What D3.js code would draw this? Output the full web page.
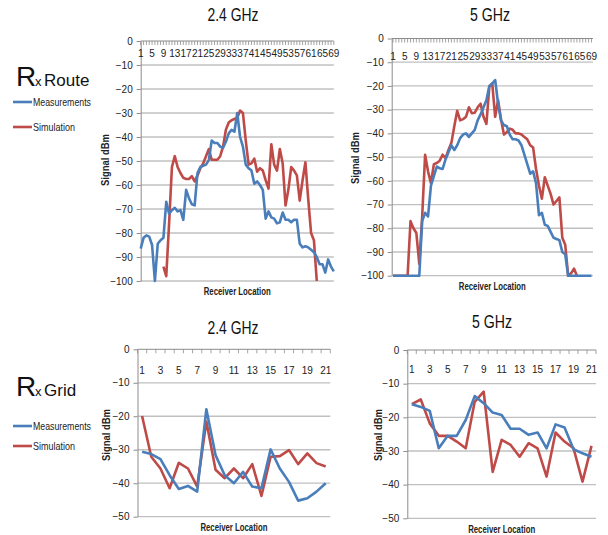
<!DOCTYPE html>
<html>
<head>
<meta charset="utf-8">
<script src="https://cdn.jsdelivr.net/npm/d3@7"></script>
<style>
  body { margin: 0; background: #fff; }
  svg { font-family: "Liberation Sans", Arial, sans-serif; }
</style>
</head>
<body>
<svg id="chart" width="608" height="535"></svg>
<script>
// receiver locations
const routeLocs = d3.range(1, 70);
const gridLocs = d3.range(1, 22);
const routeTicks = [1, 5, 9, 13, 17, 21, 25, 29, 33, 37, 41, 45, 49, 53, 57, 61, 65, 69];
const gridTicks = [1, 3, 5, 7, 9, 11, 13, 15, 17, 19, 21];
const routeYTicks = [0, -10, -20, -30, -40, -50, -60, -70, -80, -90, -100];
const gridYTicks = [0, -10, -20, -30, -40, -50];

// Rx route, 2.4 GHz
const route24Meas = [-86.5, -82, -81, -81.5, -85, -100, -84.5, -83, -82, -67,
  -72, -70.5, -69.5, -71, -70.5, -74.5, -62, -65.5, -68, -68.5,
  -55, -52.5, -52, -51.5, -49.5, -41.5, -42.5, -42.5, -44, -44.5,
  -42, -38.5, -37, -37.8, -30, -40, -44, -51.5, -53, -54,
  -59.5, -58.5, -60, -62, -74, -71, -73.5, -74, -76, -75.5,
  -71.5, -74.5, -74.5, -75.5, -74.5, -74.5, -84.5, -86, -85.5, -86,
  -87, -88, -90, -93, -93, -96.5, -91, -94, -96];
const route24Sim = [null, null, null, null, null, null, null, null, -94, -98,
  -76, -52.5, -48, -52.5, -55, -57, -57.5, -57.5, -56.3, -58.5,
  -56, -53, -51, -48, -45, -49.5, -49.5, -49.5, -48, -44,
  -37, -34, -33, -32.5, -32, -29, -30, -41.5, -51.5, -51,
  -49, -54.5, -53, -54, -58, -61.5, -43, -51.5, -54, -45,
  -51, -68.5, -62, -52.5, -54, -56, -66.5, -58, -50.5, -66,
  -80, -83, -100, null, null, null, null, null, null];

// Rx route, 5 GHz
const route5Meas = [-100, -100, -100, -100, -100, -100, -100, -100, -100, -100,
  -77, -73.5, -75, -62, -58, -54, -54.7, -55, -51, -48,
  -45, -47, -45, -42, -40.5, -40, -41.5, -40, -38.5, -34.5,
  -32, -29, -26, -20, -19, -17.5, -27.5, -34.5, -36.5, -37,
  -40.5, -42.5, -42.5, -43, -45, -49, -53, -57, -56, -61,
  -74.5, -73.5, -78.5, -79, -81.5, -84, -84.5, -85, -90, -91,
  -100, -100, -100, -100, -100, -100, -100, -100, -100];
const route5Sim = [-100, -100, -100, -100, -100, -100, -77, -80, -82, -95,
  -75, -49, -56, -61, -53, -52.5, -51.5, -49, -50.5, -47,
  -44, -37, -30.5, -34.5, -34, -33, -29, -31.5, -31.3, -29,
  -27.5, -33, -36, -20.3, -19, -33, -26, -34, -40.5, -39.5,
  -38, -38.5, -40, -40, -40.5, -41.5, -42.5, -45, -46, -55,
  -62, -67.5, -58.5, -62, -65.5, -70, -68.5, -67, -84, -87,
  -100, -99, -97, -100, null, null, null, null, null];

// Rx grid
const grid24Meas = [-30.6, -31.3, -32.8, -37.6, -41.7, -40.8, -42.5, -17.9, -31.6, -37.6, -40,
  -36.6, -41, -41.5, -29.9, -35.6, -39.6, -45.2, -44.5, -42.5, -40];
const grid24Sim = [-19.9, -32.1, -35.6, -41.5, -33.9, -35.6, -41, -21.6, -36, -38.5, -35.6,
  -38.5, -34.3, -43.8, -32.1, -31.9, -30.1, -34.3, -31.1, -34, -35];
const grid5Meas = [-16.1, -16.9, -18.1, -29.2, -25.5, -25.5, -20.8, -13.7, -15.8, -18.6, -19.3,
  -23.4, -23.4, -25.2, -24.5, -29.2, -22.1, -23, -29.5, -30.7, -31.7];
const grid5Sim = [-16.1, -14.7, -21.8, -25.5, -25.5, -27.2, -29.2, -15.4, -12.4, -36.2, -26.7,
  -28.2, -31.7, -27.7, -29.2, -37.6, -24.5, -27.2, -29.2, -39.1, -28.5];

const measColor = "#4a7ebb";
const simColor = "#be4b48";
const gridColor = "#c0c0c0";
const axisColor = "#8c8c8c";

const svg = d3.select("#chart");

// one small excel-like panel
function drawPanel(p) {
  const g = svg.append("g");

  let x, xc, tickXs;
  if (p.band) {
    x = d3.scaleBand().domain(p.cats).range([p.left, p.right]);
    xc = d => x(d) + x.bandwidth() / 2;
    tickXs = p.cats.map(d => x(d)).concat([p.right]);
  } else {
    x = d3.scalePoint().domain(p.cats).range([p.left, p.right]);
    xc = d => x(d);
    tickXs = p.cats.map(d => x(d));
  }

  const y = d3.scaleLinear()
    .domain([p.yTicks[p.yTicks.length - 1], 0])
    .range([p.bottom, p.top]);

  // gridlines
  g.selectAll(".grid")
    .data(p.yTicks.filter(v => v < 0))
    .join("line")
    .attr("x1", p.axisX)
    .attr("x2", p.gridRight)
    .attr("y1", d => y(d))
    .attr("y2", d => y(d))
    .attr("stroke", gridColor)
    .attr("stroke-width", 1.3);

  // y axis
  const yAxis = g.append("g")
    .attr("transform", `translate(${p.axisX},0)`)
    .call(d3.axisLeft(y).tickValues(p.yTicks).tickSize(4).tickPadding(4).tickSizeOuter(0));
  yAxis.select(".domain").attr("stroke", axisColor);
  yAxis.selectAll(".tick line").attr("stroke", axisColor);
  yAxis.selectAll("text")
    .attr("font-size", 10)
    .attr("fill", "#222")
    .attr("font-family", null);

  // x axis sits at 0, along the top
  g.append("line")
    .attr("x1", p.axisX)
    .attr("x2", p.gridRight)
    .attr("y1", y(0))
    .attr("y2", y(0))
    .attr("stroke", axisColor);

  g.selectAll(".xtick")
    .data(tickXs)
    .join("line")
    .attr("x1", d => d)
    .attr("x2", d => d)
    .attr("y1", y(0))
    .attr("y2", y(0) + 4)
    .attr("stroke", axisColor)
    .attr("stroke-width", 0.8);

  g.selectAll(".xlabel")
    .data(p.ticks)
    .join("text")
    .attr("x", d => xc(d))
    .attr("y", p.labelY)
    .attr("dy", "0.35em")
    .attr("text-anchor", "middle")
    .attr("font-size", 10)
    .attr("fill", "#222")
    .text(d => d);

  // series, measurements drawn last so they sit on top
  const line = d3.line()
    .defined(d => d.v !== null)
    .x(d => xc(d.c))
    .y(d => y(d.v));

  [[p.sim, simColor], [p.meas, measColor]].forEach(([vals, col]) => {
    g.append("path")
      .datum(p.cats.map((c, i) => ({ c: c, v: vals[i] })))
      .attr("fill", "none")
      .attr("stroke", col)
      .attr("stroke-width", 2.6)
      .attr("stroke-linejoin", "round")
      .attr("d", line);
  });

  // titles
  g.append("text")
    .attr("x", p.titleX)
    .attr("y", p.titleY)
    .attr("text-anchor", "middle")
    .attr("font-size", 18)
    .attr("textLength", p.titleLen)
    .attr("lengthAdjust", "spacingAndGlyphs")
    .attr("fill", "#111")
    .text(p.title);

  g.append("text")
    .attr("x", (p.axisX + p.gridRight) / 2)
    .attr("y", p.xTitleY)
    .attr("dy", "0.35em")
    .attr("text-anchor", "middle")
    .attr("font-size", 10)
    .attr("font-weight", "bold")
    .attr("textLength", 67)
    .attr("lengthAdjust", "spacingAndGlyphs")
    .attr("fill", "#222")
    .text("Receiver Location");

  g.append("text")
    .attr("transform", `translate(${p.yTitleX},${p.yTitleY}) rotate(-90)`)
    .attr("dy", "0.35em")
    .attr("text-anchor", "middle")
    .attr("font-size", 10)
    .attr("font-weight", "bold")
    .attr("textLength", 52)
    .attr("lengthAdjust", "spacingAndGlyphs")
    .attr("fill", "#222")
    .text("Signal dBm");
}

drawPanel({
  cats: routeLocs, ticks: routeTicks, yTicks: routeYTicks, meas: route24Meas, sim: route24Sim,
  band: false, left: 140.7, right: 333.8, axisX: 140.7, gridRight: 333.8,
  top: 41, bottom: 281, labelY: 53, title: "2.4 GHz", titleLen: 51, titleX: 233, titleY: 21,
  xTitleY: 291.5, yTitleX: 105, yTitleY: 160
});

drawPanel({
  cats: routeLocs, ticks: routeTicks, yTicks: routeYTicks, meas: route5Meas, sim: route5Sim,
  band: false, left: 393, right: 591.5, axisX: 391.7, gridRight: 593,
  top: 38.5, bottom: 275.7, labelY: 56, title: "5 GHz", titleLen: 40, titleX: 490, titleY: 21,
  xTitleY: 286.5, yTitleX: 355, yTitleY: 158
});

drawPanel({
  cats: gridLocs, ticks: gridTicks, yTicks: gridYTicks, meas: grid24Meas, sim: grid24Sim,
  band: true, left: 137.5, right: 330.3, axisX: 137.5, gridRight: 330.3,
  top: 349.3, bottom: 516.7, labelY: 370, title: "2.4 GHz", titleLen: 51, titleX: 233, titleY: 334,
  xTitleY: 527, yTitleX: 106.5, yTitleY: 435
});

drawPanel({
  cats: gridLocs, ticks: gridTicks, yTicks: gridYTicks, meas: grid5Meas, sim: grid5Sim,
  band: true, left: 407.3, right: 596, axisX: 407.3, gridRight: 596,
  top: 350, bottom: 518.3, labelY: 369.5, title: "5 GHz", titleLen: 40, titleX: 492, titleY: 328,
  xTitleY: 529, yTitleX: 378, yTitleY: 435
});

// left side labels and legends
function sideLabel(word, baseY, legendY) {
  svg.append("text")
    .attr("x", 16)
    .attr("y", baseY)
    .attr("font-size", 28)
    .attr("fill", "#111")
    .text("R");
  svg.append("text")
    .attr("x", 35)
    .attr("y", baseY)
    .attr("font-size", 13)
    .attr("fill", "#111")
    .text("x");
  svg.append("text")
    .attr("x", 44)
    .attr("y", baseY)
    .attr("font-size", 17)
    .attr("fill", "#111")
    .text(word);

  const items = [["Measurements", measColor, legendY[0], 58], ["Simulation", simColor, legendY[1], 42]];
  items.forEach(([name, col, ly, len]) => {
    svg.append("line")
      .attr("x1", 13)
      .attr("x2", 32)
      .attr("y1", ly)
      .attr("y2", ly)
      .attr("stroke", col)
      .attr("stroke-width", 2.6);
    svg.append("text")
      .attr("x", 33)
      .attr("y", ly)
      .attr("dy", "0.35em")
      .attr("font-size", 10.5)
      .attr("textLength", len)
      .attr("lengthAdjust", "spacingAndGlyphs")
      .attr("fill", "#222")
      .text(name);
  });
}

sideLabel("Route", 86, [102, 127]);
sideLabel("Grid", 396, [426, 446]);
</script>
</body>
</html>
